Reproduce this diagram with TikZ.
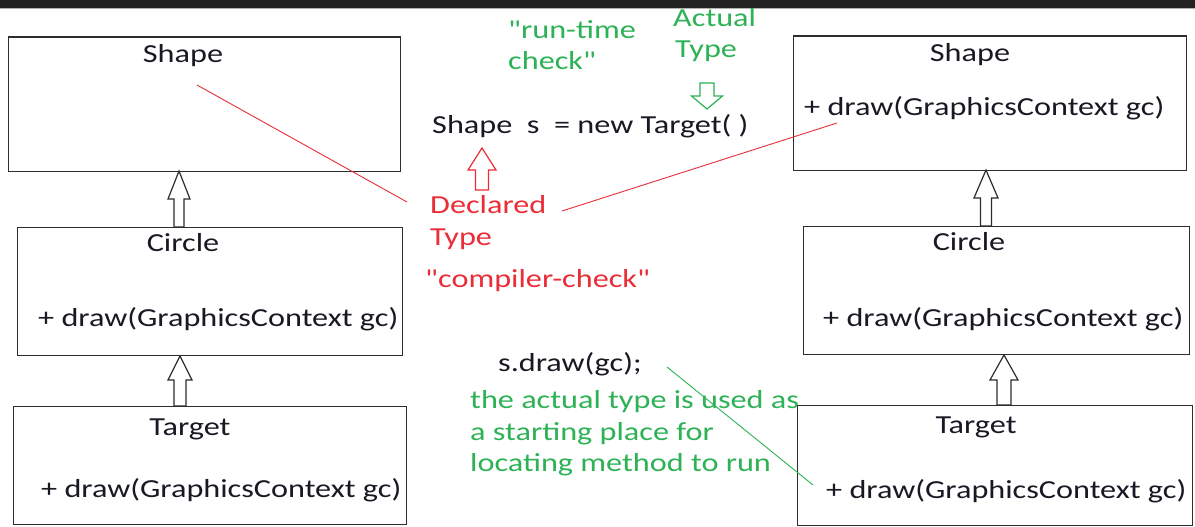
\documentclass[tikz,border=0pt]{standalone}
\usepackage{fontspec}
\newfontfamily\calib{Carlito}[FakeStretch=1.24]
\definecolor{band}{RGB}{34,34,34}
\definecolor{boxline}{RGB}{45,45,45}
\definecolor{txt}{RGB}{25,25,35}
\definecolor{grn}{RGB}{45,178,85}
\definecolor{rd}{RGB}{235,45,55}
\newcommand\hollowarrow[7][boxline]{%
  \draw[#1,line width=1.2pt,line join=miter]
    (#2,#3) -- (#2+#6,#4) -- (#2+#7,#4) -- (#2+#7,#5) -- (#2-#7,#5)
    -- (#2-#7,#4) -- (#2-#6,#4) -- cycle;}
\begin{document}
\begin{tikzpicture}[x=1pt,y=-1pt,
  umlbox/.style={draw=boxline,line width=1.3pt,anchor=north west,inner sep=0pt},
  t/.style={font=\calib\fontsize{26}{31}\selectfont,text=txt,inner sep=0pt},
  g/.style={t,text=grn},
  r/.style={t,text=rd}]
\useasboundingbox (0,0) rectangle (1195,527);
\fill[white] (0,0) rectangle (1195,527);
\fill[band] (0,0) rectangle (1195,8);
\draw[gray!60,line width=0.6pt] (0,8.5) -- (1195,8.5);
% left column
\node[umlbox,minimum width=392,minimum height=134] (shapeL) at (8,36.5) {};
\node[umlbox,minimum width=385,minimum height=128] (circleL) at (17,227) {};
\node[umlbox,minimum width=393,minimum height=118] (targetL) at (13,406) {};
\node[t,anchor=base] (shapeLt) at (183,63) {Shape};
\node[t,anchor=base] (circleLt) at (183,251) {Circle};
\node[t,anchor=base west] (circleLd) at (38,326) {+ draw(GraphicsContext gc)};
\node[t,anchor=base] (targetLt) at (190,435) {Target};
\node[t,anchor=base west] (targetLd) at (41,497) {+ draw(GraphicsContext gc)};
% right column
\node[umlbox,minimum width=393,minimum height=134] (shapeR) at (793,35.5) {};
\node[umlbox,minimum width=386,minimum height=128] (circleR) at (803,226) {};
\node[umlbox,minimum width=395,minimum height=120] (targetR) at (797,405) {};
\node[t,anchor=base] (shapeRt) at (970,62) {Shape};
\node[t,anchor=base west] (shapeRd) at (804,116) {+ draw(GraphicsContext gc)};
\node[t,anchor=base] (circleRt) at (969,250) {Circle};
\node[t,anchor=base west] (circleRd) at (823,326) {+ draw(GraphicsContext gc)};
\node[t,anchor=base] (targetRt) at (976,433) {Target};
\node[t,anchor=base west] (targetRd) at (826,498) {+ draw(GraphicsContext gc)};
% inheritance arrows
\hollowarrow{179}{171}{199}{227}{11}{5}
\hollowarrow{180}{356}{380}{406}{12}{6}
\hollowarrow{986}{170}{198}{226}{12}{5.5}
\hollowarrow{1004}{355}{380}{405}{14}{7}
% middle texts
\node[g,anchor=base west] (rt1) at (508,39) {"run-time};
\node[g,anchor=base west] (rt2) at (508,70) {check"};
\node[g,anchor=base west] (at1) at (673,27) {Actual};
\node[g,anchor=base west] (at2) at (675,58) {Type};
\hollowarrow[grn]{707}{109}{96}{83}{15.5}{7}
\node[t,anchor=base west] (decl) at (432,133) {Shape\ \ s\ \ = new Target(\ )};
\hollowarrow[rd]{482}{148}{170}{190}{14}{6.5}
\node[r,anchor=base west] (dt1) at (430,213) {Declared};
\node[r,anchor=base west] (dt2) at (430,245) {Type};
\node[r,anchor=base west] (cc) at (425,287) {"compiler-check"};
\node[t,anchor=base west] (call) at (498,371) {s.draw(gc);};
\node[g,anchor=base west] (gl1) at (470,408) {the actual type is used as};
\node[g,anchor=base west] (gl2) at (470,440) {a starting place for};
\node[g,anchor=base west] (gl3) at (470,471) {locating method to run};
% pointer lines
\coordinate (pA) at (197,85);
\coordinate (pB) at (407,202);
\coordinate (pC) at (562,211);
\coordinate (pD) at (837,123);
\coordinate (pE) at (667,367);
\coordinate (pF) at (813,485);
\draw[rd,line width=0.9pt] (pA) -- (pB);
\draw[rd,line width=0.9pt] (pC) -- (pD);
\draw[grn,line width=0.9pt] (pE) -- (pF);
\end{tikzpicture}
\end{document}
